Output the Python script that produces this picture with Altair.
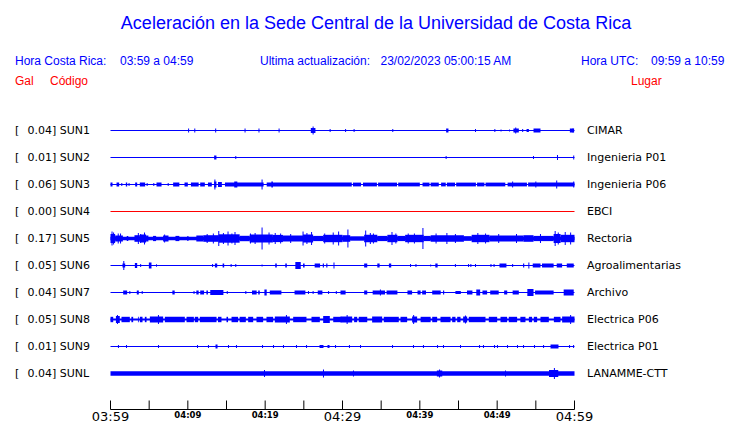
import altair as alt
import pandas as pd

# ---------------- data ----------------
CODES = ["SUN1", "SUN2", "SUN3", "SUN4", "SUN5", "SUN6", "SUN7", "SUN8", "SUN9", "SUNL"]
GAL = ["0.04", "0.01", "0.06", "0.00", "0.17", "0.05", "0.04", "0.05", "0.01", "0.04"]
PLACES = ["CIMAR", "Ingenieria P01", "Ingenieria P06", "EBCI", "Rectoria",
          "Agroalimentarias", "Archivo", "Electrica P06", "Electrica P01", "LANAMME-CTT"]
# half-width of the quiet background signal of each trace
BASE = [0.5, 0.5, 0.5, 0.5, 1.8, 0.5, 0.5, 1.1, 0.5, 2.3]

# segments: (start minute, end minute, half amplitude); spikes: (minute, half amplitude)
SEG_SUN1 = [(25.9, 26.5, 2.5), (43.4, 43.7, 2), (52.1, 52.8, 2), (53.8, 54.1, 1.5),
            (54.7, 55.6, 2), (59.4, 59.95, 2)]
SPK_SUN1 = [(10.1, 2), (10.9, 2), (13.6, 2), (17.4, 2), (19.2, 2), (21.8, 2), (26.2, 4),
            (28.4, 1.5), (30.4, 1.5), (31.5, 1.5), (36.5, 1.5), (47.2, 1.5), (49.7, 1.5),
            (50.5, 1), (51.6, 1), (52.4, 3), (53.3, 1.5), (59.8, 2)]

SEG_SUN2 = [(13.4, 13.7, 2)]
SPK_SUN2 = [(16.2, 1.5), (43.4, 1.5), (54.7, 1.5), (57.8, 2.5), (59.9, 2)]

SEG_SUN3 = [(0.0, 0.26, 2), (0.78, 1.12, 2), (1.98, 2.16, 2), (3.19, 3.45, 2), (3.79, 4.48, 2),
            (5.95, 6.6, 2), (8.1, 8.9, 2), (9.57, 10.0, 2), (10.4, 11.4, 2), (11.6, 12.2, 2),
            (12.6, 13.1, 2), (13.4, 13.7, 3), (13.9, 14.4, 2.5),
            (14.8, 19.8, 1.9), (20.2, 31.2, 1.9), (31.35, 32.4, 1.9), (32.65, 34.45, 1.9),
            (34.6, 37.05, 1.9), (37.2, 40.0, 1.9), (40.35, 41.25, 1.9), (41.4, 42.45, 1.9),
            (42.75, 43.35, 1.9), (43.5, 44.55, 1.9), (44.7, 47.25, 1.9), (47.4, 48.35, 1.9),
            (48.5, 51.05, 1.9), (51.35, 53.85, 1.9), (54.0, 60.0, 1.9),
            (16.0, 16.4, 3), (20.8, 21.0, 3)]
SPK_SUN3 = [(1.46, 1.5), (2.4, 1.5), (4.74, 1.5), (5.6, 1.5), (7.46, 1.5), (13.5, 5),
            (19.6, 5), (52.0, 3), (55.0, 3), (57.7, 4), (59.9, 3)]

SEG_SUN4 = []
SPK_SUN4 = []

SEG_SUN5 = [(0.0, 0.6, 4.5), (0.6, 1.6, 3), (2.1, 2.3, 2.5), (3.1, 3.8, 3.3), (3.8, 4.6, 4),
            (4.6, 4.9, 3), (5.5, 5.9, 2.6), (6.8, 7.5, 3), (8.4, 8.9, 2.6), (9.9, 10.1, 2.3),
            (11.1, 12.0, 3), (12.0, 14.0, 3.3), (14.0, 16.7, 4.2), (16.7, 18.0, 2.7),
            (18.0, 21.0, 4), (21.0, 22.3, 3.6), (22.3, 24.9, 3), (24.9, 26.2, 4),
            (26.2, 27.5, 2.6), (27.5, 30.0, 3.7),
            (30.0, 31.0, 3.3), (31.0, 32.8, 2.1), (32.8, 34.5, 3.7), (34.5, 35.8, 2.6),
            (35.8, 37.1, 3.7), (37.1, 38.1, 2.6), (38.1, 40.5, 3.7), (40.5, 41.4, 2.6),
            (41.4, 45.7, 3.2), (45.7, 46.7, 2.3), (46.7, 49.0, 3.7), (49.0, 53.4, 3),
            (53.4, 54.7, 3.3), (54.7, 57.3, 2.6), (57.3, 58.2, 4.5), (58.2, 60.0, 3.7)]
SPK_SUN5 = [(0.2, 7), (0.4, 6), (1.0, 5), (1.3, 5), (3.6, 5.5), (3.9, 4.5), (4.4, 6),
            (7.0, 4), (12.5, 4.5), (13.3, 5), (14.0, 7.5), (14.6, 5.5), (15.2, 7), (15.7, 5),
            (16.1, 6.5), (18.1, 5), (18.7, 5.5), (19.6, 11), (20.5, 6), (21.3, 5.5), (22.0, 5),
            (23.3, 4.5), (24.9, 7), (25.4, 5.5), (26.0, 6.5), (27.7, 5), (28.8, 6), (29.5, 7),
            (30.7, 9), (33.0, 8), (33.6, 5.5), (34.0, 5), (36.4, 6.5), (36.9, 5), (38.5, 5),
            (39.3, 5), (40.4, 10.5), (42.1, 5), (43.5, 5.5), (44.6, 4.5), (47.5, 5.5),
            (48.5, 5), (50.2, 4.5), (52.5, 4.5), (55.6, 4.5), (57.5, 7.5), (57.9, 6),
            (58.8, 6.5), (59.5, 6)]

SEG_SUN6 = [(1.55, 1.9, 2), (3.15, 3.45, 2.5), (4.96, 5.3, 3), (13.5, 13.8, 2), (14.5, 14.7, 2),
            (21.3, 21.5, 2), (22.6, 22.8, 2), (23.9, 24.6, 3.5), (24.9, 25.1, 2),
            (26.4, 27.1, 2), (27.45, 27.6, 2), (27.9, 28.05, 2),
            (32.8, 33.2, 2), (34.5, 34.8, 2), (36.0, 36.3, 2), (42.0, 42.3, 2), (50.3, 51.2, 2),
            (53.35, 53.5, 2), (54.6, 55.6, 2), (55.8, 57.3, 2), (57.7, 58.4, 2), (59.0, 59.9, 2)]
SPK_SUN6 = [(1.72, 4.5), (3.9, 1.5), (5.95, 1.2), (13.2, 1.5), (15.6, 1.5), (16.2, 1.5),
            (19.6, 1), (28.9, 3), (38.8, 1.5), (39.5, 1.5), (41.4, 1), (44.6, 1.5), (46.3, 1.5),
            (46.6, 1.5), (47.2, 1.5), (49.2, 1.5), (49.6, 1.5), (52.0, 1.5), (54.1, 3)]

SEG_SUN7 = [(1.64, 2.15, 2), (3.4, 3.66, 2), (8.0, 8.3, 2), (11.1, 11.4, 2), (11.6, 12.1, 2),
            (12.4, 12.6, 2), (12.9, 14.6, 2.5), (18.3, 18.9, 2), (19.1, 19.3, 2), (19.9, 20.2, 3),
            (20.6, 22.1, 2), (23.8, 25.2, 2), (26.8, 27.4, 2),
            (29.74, 30.4, 2), (32.8, 33.2, 2), (33.9, 35.5, 2), (35.7, 37.1, 2), (38.4, 39.0, 2),
            (39.7, 40.1, 2), (40.3, 40.8, 2), (41.6, 42.7, 2), (43.0, 43.15, 2), (44.6, 45.3, 1.5),
            (46.1, 46.8, 2), (47.3, 47.8, 3), (48.1, 48.7, 2), (49.1, 50.2, 2), (50.9, 51.3, 2),
            (52.0, 52.8, 2), (53.9, 54.7, 3.5), (54.9, 57.3, 2), (58.6, 59.9, 3)]
SPK_SUN7 = [(2.5, 1.5), (4.1, 1.5), (10.8, 1.5), (15.1, 1.5), (17.5, 1.5), (25.6, 1.5),
            (26.2, 1.5), (28.2, 1.5), (29.2, 1.5), (34.9, 3)]

SEG_SUN8 = [(0.0, 0.35, 2.7), (0.7, 1.2, 3.5), (1.42, 2.5, 2.7), (2.7, 2.93, 2.7),
            (3.55, 3.65, 2.7), (3.8, 4.14, 2.7), (4.44, 4.66, 2.7), (5.09, 6.81, 3),
            (7.03, 9.61, 2.7), (9.83, 10.78, 2.7), (10.9, 11.34, 2.7), (11.55, 13.71, 2.7),
            (13.9, 14.35, 2.7), (15.0, 15.2, 2.7), (15.65, 16.5, 2.7), (16.7, 17.5, 2.7),
            (17.8, 18.45, 2.7), (18.88, 19.74, 2.7), (20.17, 21.03, 2.7), (21.25, 23.19, 3),
            (23.62, 25.34, 2.7), (25.99, 27.07, 2.7), (27.5, 28.36, 3.5), (28.8, 29.87, 2.7),
            (29.74, 31.25, 3), (31.5, 31.9, 2.7), (32.1, 33.2, 2.7), (33.83, 35.13, 3),
            (35.34, 37.28, 2.7), (37.5, 38.36, 2.7), (39.0, 39.65, 3), (40.1, 41.4, 2.7),
            (41.6, 42.24, 2.7), (42.67, 43.97, 2.7), (44.18, 44.61, 2.7), (44.83, 45.26, 2.7),
            (45.6, 46.12, 3), (46.33, 48.49, 2.7), (48.92, 50.0, 2.7), (50.43, 51.29, 2.7),
            (51.5, 52.58, 2.7), (53.0, 53.66, 2.7), (54.1, 54.52, 2.7), (54.74, 55.17, 2.7),
            (55.6, 56.68, 2.7), (57.33, 58.19, 2.7), (58.4, 60.0, 3)]
SPK_SUN8 = [(0.9, 4.5), (6.2, 4.5), (22.75, 4.5), (30.6, 4.5), (39.2, 4.5), (45.9, 4),
            (59.5, 4.5)]

SEG_SUN9 = [(13.58, 13.84, 2), (27.03, 27.54, 1.5), (28.06, 28.32, 1.5), (56.9, 57.93, 2)]
SPK_SUN9 = [(1.03, 1.5), (2.07, 1.5), (6.21, 1.5), (11.25, 1.5), (12.67, 1.5), (15.26, 1.5),
            (16.29, 1.5), (19.66, 1.5), (21.08, 1.5), (22.37, 1.5), (24.05, 1.5), (25.35, 1.5),
            (29.1, 1.5), (30.9, 1.5), (32.33, 1.5), (36.47, 1.5), (39.18, 1.5), (40.47, 1.5),
            (42.29, 1.5), (43.06, 1.5), (45.26, 1.5), (47.72, 1.5), (48.23, 1.5), (49.66, 1.5),
            (50.04, 1.5), (51.34, 1.5), (52.63, 1.5), (53.41, 1.5), (54.83, 1.5), (56.0, 1.5),
            (59.36, 1.5), (59.88, 1.5)]

SEG_SUNL = [(42.2, 42.9, 3), (56.7, 57.9, 3.5)]
SPK_SUNL = [(19.91, 3.5), (27.54, 4), (31.42, 3), (42.55, 4), (51.08, 3), (57.4, 5.5)]

SEGS = {"SUN1": SEG_SUN1, "SUN2": SEG_SUN2, "SUN3": SEG_SUN3, "SUN4": SEG_SUN4,
        "SUN5": SEG_SUN5, "SUN6": SEG_SUN6, "SUN7": SEG_SUN7, "SUN8": SEG_SUN8,
        "SUN9": SEG_SUN9, "SUNL": SEG_SUNL}
SPKS = {"SUN1": SPK_SUN1, "SUN2": SPK_SUN2, "SUN3": SPK_SUN3, "SUN4": SPK_SUN4,
        "SUN5": SPK_SUN5, "SUN6": SPK_SUN6, "SUN7": SPK_SUN7, "SUN8": SPK_SUN8,
        "SUN9": SPK_SUN9, "SUNL": SPK_SUNL}

TICK_MINUTES = [0, 5, 10, 15, 20, 25, 30, 35, 40, 45, 50, 55, 60]
MAJOR_TICKS = [0, 30, 60]
MAJOR_LABELS = ["03:59", "04:29", "04:59"]
MINOR_TICKS = [10, 20, 40, 50]
MINOR_LABELS = ["04:09", "04:19", "04:39", "04:49"]

TITLE = "Aceleración en la Sede Central de la Universidad de Costa Rica"
HEADER_BLUE = ["Hora Costa Rica:", "03:59 a 04:59", "Ultima actualización:",
               "23/02/2023 05:00:15 AM", "Hora UTC:", "09:59 a 10:59"]
HEADER_RED = ["Gal", "Código", "Lugar"]

# ---------------- build tables ----------------
GAP = 27  # vertical spacing of traces (in amplitude units, 1 unit = 1 px)
BLUE = "#0000ff"
RED = "#ff0000"

rect_rows, spike_rows, label_rows = [], [], []
for i, code in enumerate(CODES):
    col = RED if code == "SUN4" else BLUE
    c = i * GAP
    rect_rows.append(dict(code=code, t0=0.0, t1=60.0, lo=c - BASE[i], hi=c + BASE[i], col=col))
    for s, e, a in SEGS[code]:
        rect_rows.append(dict(code=code, t0=s, t1=e, lo=c - a, hi=c + a, col=col))
    for m, a in SPKS[code]:
        spike_rows.append(dict(code=code, t=m, lo=c - a, hi=c + a, col=col))
    label_rows.append(dict(row=c, left=f"{GAL[i]}] {code}", place=PLACES[i]))

rects = pd.DataFrame(rect_rows)
spikes = pd.DataFrame(spike_rows)
labels = pd.DataFrame(label_rows)
ticks = pd.DataFrame({"t": TICK_MINUTES})
major = pd.DataFrame({"t": MAJOR_TICKS, "lab": MAJOR_LABELS})
minor = pd.DataFrame({"t": MINOR_TICKS, "lab": MINOR_LABELS})

YMIN, YMAX = -27.5, 278.5
xs = alt.Scale(domain=[0, 60], nice=False, zero=False)
ys = alt.Scale(domain=[YMIN, YMAX], reverse=True, nice=False, zero=False)

X0, Y0 = 110.5, 103  # page position of plot origin (for header placement)

trace_rects = alt.Chart(rects).mark_rect(strokeWidth=0).encode(
    x=alt.X("t0:Q", scale=xs, axis=None), x2="t1:Q",
    y=alt.Y("lo:Q", scale=ys, axis=None), y2="hi:Q",
    color=alt.Color("col:N", scale=None),
)
trace_spikes = alt.Chart(spikes).mark_rule(strokeWidth=1).encode(
    x=alt.X("t:Q", scale=xs, axis=None),
    y=alt.Y("lo:Q", scale=ys, axis=None), y2="hi:Q",
    color=alt.Color("col:N", scale=None),
)

left_bracket = alt.Chart(labels).mark_text(
    text="[", align="left", baseline="middle", font="DejaVu Sans", fontSize=11, color="black"
).encode(x=alt.value(15 - X0), y=alt.Y("row:Q", scale=ys, axis=None))
left_text = alt.Chart(labels).mark_text(
    align="left", baseline="middle", font="DejaVu Sans", fontSize=11, color="black"
).encode(x=alt.value(27.5 - X0), y=alt.Y("row:Q", scale=ys, axis=None), text="left:N")
right_text = alt.Chart(labels).mark_text(
    align="left", baseline="middle", font="DejaVu Sans", fontSize=11, color="black"
).encode(x=alt.value(587 - X0), y=alt.Y("row:Q", scale=ys, axis=None), text="place:N")

axis_line = alt.Chart(pd.DataFrame({"a": [0], "b": [60], "y": [279.0]})).mark_rule(
    color="black", strokeWidth=1
).encode(x=alt.X("a:Q", scale=xs, axis=None), x2="b:Q", y=alt.Y("y:Q", scale=ys, axis=None))
tick_marks = alt.Chart(ticks).transform_calculate(y0="279", y1="270").mark_rule(
    color="black", strokeWidth=1
).encode(x=alt.X("t:Q", scale=xs, axis=None),
         y=alt.Y("y0:Q", scale=ys, axis=None), y2="y1:Q")
major_text = alt.Chart(major).transform_calculate(y="290.2").mark_text(
    align="center", baseline="alphabetic", font="DejaVu Sans", fontSize=13, color="black"
).encode(x=alt.X("t:Q", scale=xs, axis=None), y=alt.Y("y:Q", scale=ys, axis=None), text="lab:N")
minor_text = alt.Chart(minor).transform_calculate(y="287.8").mark_text(
    align="center", baseline="alphabetic", font="DejaVu Sans", fontSize=8.5,
    fontWeight="bold", color="black"
).encode(x=alt.X("t:Q", scale=xs, axis=None), y=alt.Y("y:Q", scale=ys, axis=None), text="lab:N")


def page_text(txt, px, py, size, color, align="left"):
    return alt.Chart(pd.DataFrame({"s": [txt]})).mark_text(
        align=align, baseline="alphabetic", font="Liberation Sans", fontSize=size, color=color
    ).encode(text="s:N", x=alt.value(px - X0), y=alt.value(py - Y0))


headers = [
    page_text(TITLE, 376, 29.3, 18, BLUE, "center"),
    page_text(HEADER_BLUE[0], 15, 65, 12, BLUE),
    page_text(HEADER_BLUE[1], 120, 65, 12, BLUE),
    page_text(HEADER_BLUE[2], 260, 65, 12, BLUE),
    page_text(HEADER_BLUE[3], 380.5, 65, 12, BLUE),
    page_text(HEADER_BLUE[4], 581, 65, 12, BLUE),
    page_text(HEADER_BLUE[5], 651, 65, 12, BLUE),
    page_text(HEADER_RED[0], 15, 85, 12, RED),
    page_text(HEADER_RED[1], 50, 85, 12, RED),
    page_text(HEADER_RED[2], 631, 85, 12, RED),
]

chart = alt.layer(
    trace_rects, trace_spikes, left_bracket, left_text, right_text,
    axis_line, tick_marks, major_text, minor_text, *headers
).properties(
    width=464, height=306,
    autosize=alt.AutoSizeParams(type="none"),
    padding={"left": X0 - 8, "top": Y0 - 8, "right": 157.5, "bottom": 14},
    background="white",
).configure_view(stroke=None)

chart.save("out.html", embed_options={"renderer": "svg", "actions": False})
